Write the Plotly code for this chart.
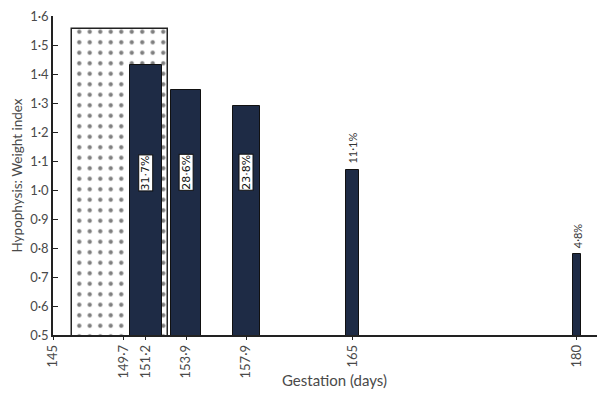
import plotly.graph_objects as go

# ---- data ----
gestation = [151.2, 153.9, 157.9, 165, 180]
weight_index = [1.43, 1.345, 1.29, 1.07, 0.78]
pct_labels = ["31·7%", "28·6%", "23·8%", "11·1%", "4·8%"]
boxed_label = [True, True, True, False, False]

range_start = 146.3   # dotted reference band (days)
range_end = 152.7
range_index = 1.555

tick_vals = [145, 149.7, 151.2, 153.9, 157.9, 165, 180]
tick_text = ["145", "149·7", "151·2", "153·9", "157·9", "165", "180"]
y_vals = [0.5, 0.6, 0.7, 0.8, 0.9, 1.0, 1.1, 1.2, 1.3, 1.4, 1.5, 1.6]
y_text = ["0·5", "0·6", "0·7", "0·8", "0·9", "1·0", "1·1", "1·2", "1·3", "1·4", "1·5", "1·6"]

# ---- style ----
bar_widths = [2.1, 2.0, 1.8, 0.87, 0.55]
dark = "#1e2b45"
ink = "#4a4a4a"
font = "Lato"
OFF = 8                      # default body margin of the html page
W, H = 605 - OFF, 404 - OFF
L, R, T, B = 53 - OFF, 0, 16 - OFF, 69
pw, ph = W - L - R, H - T - B

fig = go.Figure()

fig.add_trace(go.Bar(
    x=[(range_start + range_end) / 2], y=[range_index],
    width=[range_end - range_start],
    marker=dict(color="white", line=dict(color="#222", width=1.5),
                pattern=dict(shape=".", fgcolor="#000", bgcolor="white",
                             size=10.5, solidity=0.13)),
    showlegend=False, hoverinfo="skip",
))

fig.add_trace(go.Bar(
    x=gestation, y=weight_index, width=bar_widths,
    marker=dict(color=dark, line=dict(color="#111", width=1)),
    showlegend=False,
))

annotations = []
for g, v, t, boxed in zip(gestation, weight_index, pct_labels, boxed_label):
    if boxed:
        annotations.append(dict(
            x=g, y=1.06, text=t, textangle=-90, showarrow=False,
            bgcolor="white", bordercolor="#111", borderwidth=1, borderpad=0,
            font=dict(family="DejaVu Sans", size=11, color="#111"),
        ))
    else:
        annotations.append(dict(
            x=g, y=v, text=t, textangle=-90, showarrow=False,
            yanchor="bottom", yshift=4,
            font=dict(family=font, size=11, color="#333"),
        ))

# x-axis title, placed in viewport pixels
annotations.append(dict(
    x=(334 - 53) / pw, y=-(391 - 335) / ph,
    xref="paper", yref="paper", text="Gestation (days)", showarrow=False,
    font=dict(family=font, size=15, color=ink),
))

fig.update_layout(
    width=W, height=H,
    margin=dict(l=L, r=R, t=T, b=B),
    paper_bgcolor="white", plot_bgcolor="white",
    barmode="overlay", bargap=0,
    font=dict(family=font, size=12, color=ink),
    annotations=annotations,
)

fig.update_xaxes(
    range=[145, 145 + pw / 14.97], tickvals=tick_vals, ticktext=tick_text,
    tickangle=-90, showline=True, linecolor="#222", linewidth=1.5,
    ticks="outside", ticklen=3, tickcolor="#222",
    showgrid=False, zeroline=False, automargin=False,
    ticklabeloverflow="allow",
    tickfont=dict(family=font, size=13, color=ink),
)
fig.update_yaxes(
    range=[0.5, 1.6], tickvals=y_vals, ticktext=y_text,
    showline=True, linecolor="#222", linewidth=1.5,
    ticks="inside", ticklen=5, tickcolor="#222",
    showgrid=False, zeroline=False, automargin=False,
    ticklabeloverflow="allow",
    title=dict(text="Hypophysis: Weight index", standoff=4,
               font=dict(family=font, size=13.5, color=ink)),
    tickfont=dict(family=font, size=13, color=ink),
)

fig.write_html("out.html")
